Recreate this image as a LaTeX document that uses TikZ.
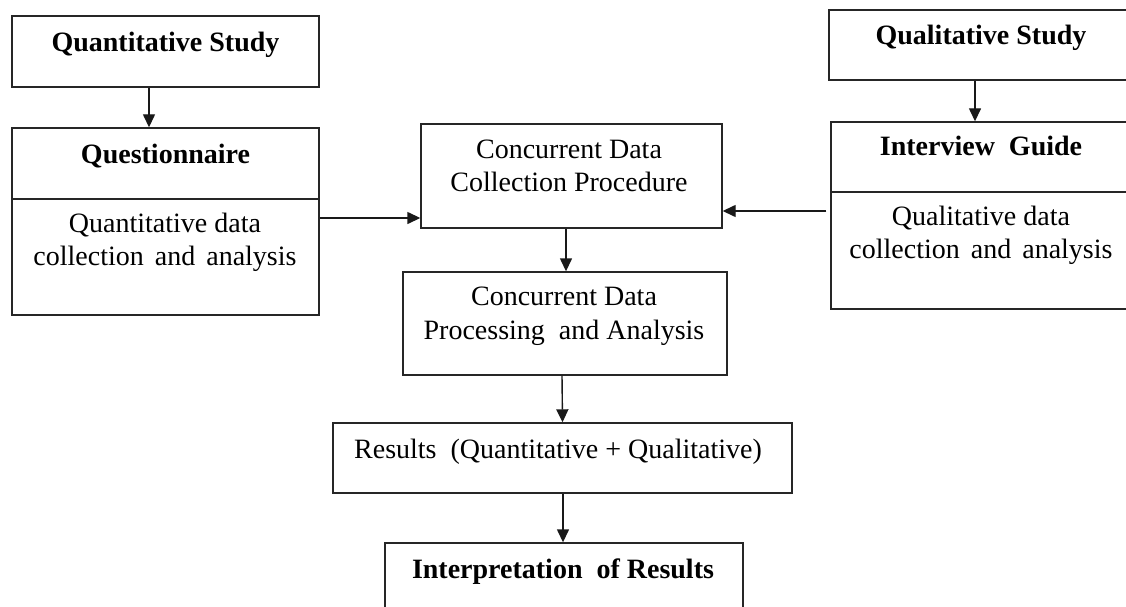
\documentclass[tikz,border=0pt]{standalone}
\usepackage{fontspec}
\setmainfont{Liberation Serif}
\usetikzlibrary{arrows.meta}
\begin{document}
\begin{tikzpicture}[x=1pt,y=-1pt,
  box/.style={draw=black!85,line width=1.4pt,inner sep=0pt,fill=none},
  txt/.style={anchor=base,inner sep=0pt,font=\fontsize{28}{33}\selectfont},
  btxt/.style={txt,font=\fontsize{28}{33}\selectfont\bfseries},
  arr/.style={draw=black!90,line width=1.4pt,-{Triangle[length=13pt,width=12pt]}}]
\useasboundingbox (0,0) rectangle (1126,607);
\clip (0,0) rectangle (1126,607);
\fill[white] (0,0) rectangle (1126,607);
% boxes
\node[box,minimum width=307pt,minimum height=71pt] (qs) at (165.5,51.5) {};
\node[box,minimum width=307pt,minimum height=187pt] (qn) at (165.5,221.5) {};
\node[box,minimum width=303pt,minimum height=70pt] (ls) at (980.5,45) {};
\node[box,minimum width=301pt,minimum height=187pt] (ig) at (981.5,215.5) {};
\node[box,minimum width=301pt,minimum height=104pt] (cc) at (571.5,176) {};
\node[box,minimum width=324pt,minimum height=103pt] (cp) at (565,323.5) {};
\node[box,minimum width=459pt,minimum height=70pt] (rs) at (562.5,458) {};
\node[box,minimum width=358pt,minimum height=97pt] (ir) at (564,591.5) {};
% dividers
\draw[draw=black!85,line width=1.4pt] (qn.west |- 0,199) -- (qn.east |- 0,199);
\draw[draw=black!85,line width=1.4pt] (ig.west |- 0,192) -- (ig.east |- 0,192);
% texts
\node[btxt] (t1) at (165.5,52) {Quantitative Study};
\node[btxt] (t2) at (165.5,163) {Questionnaire};
\node[txt] (t3) at (165,232) {Quantitative data};
\node[txt] (t4) at (165,265) {collection\hspace{4pt} and\hspace{4pt} analysis};
\node[btxt] (t5) at (981,45) {Qualitative Study};
\node[btxt] (t6) at (981,155) {Interview\ \ Guide};
\node[txt] (t7) at (981,225) {Qualitative data};
\node[txt] (t8) at (981,258) {collection\hspace{4pt} and\hspace{4pt} analysis};
\node[txt] (t9) at (569,158) {Concurrent Data};
\node[txt] (t10) at (569,191) {Collection Procedure};
\node[txt] (t11) at (564,305) {Concurrent Data};
\node[txt] (t12) at (564,339) {Processing\ \ and Analysis};
\node[txt] (t13) at (558,458) {Results\ \ (Quantitative + Qualitative)};
\node[btxt] (t14) at (563,578) {Interpretation\ \ of Results};
% arrows
\draw[arr] ([xshift=-16.5pt]qs.south) -- ([xshift=-16.5pt]qn.north);
\draw[arr] ([xshift=-5.5pt]ls.south) -- ([xshift=-6.5pt]ig.north);
\draw[arr] ([yshift=3.5pt]qn.east) -- ([yshift=-42pt]cc.west);
\draw[arr] ([xshift=-4pt,yshift=4.5pt]ig.west) -- ([yshift=-35pt]cc.east);
\draw[arr] ([xshift=-5.5pt]cc.south) -- ([xshift=1pt]cp.north);
\draw[arr] ([xshift=-3pt]cp.south) -- (rs.north);
\draw[arr] ([xshift=0.5pt]rs.south) -- ([xshift=-1pt]ir.north);
\end{tikzpicture}
\end{document}
